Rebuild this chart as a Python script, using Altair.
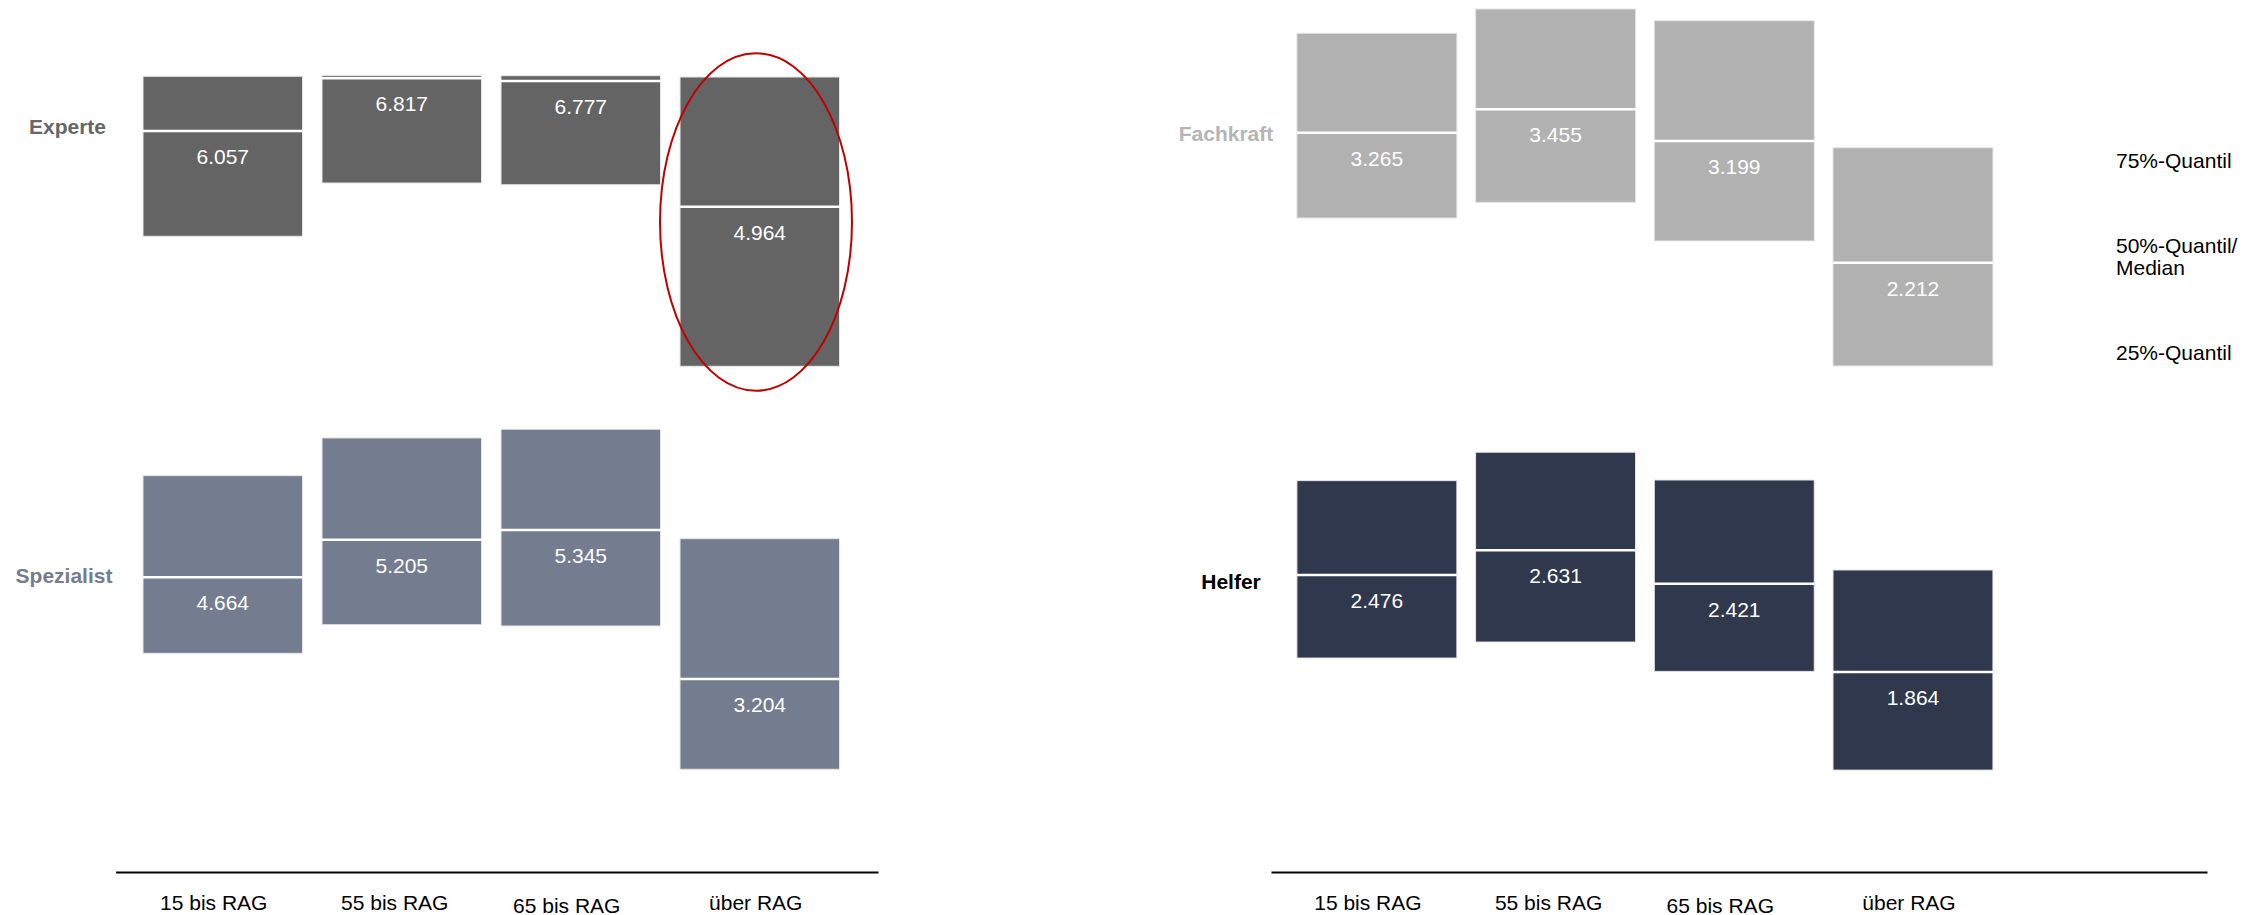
import altair as alt
import pandas as pd

# ---------------- data ----------------
categories = ["15 bis RAG", "55 bis RAG", "65 bis RAG", "über RAG"]

experte_q25 = [4538, 5307, 5282, 2662]
experte_median = [6057, 6817, 6777, 4964]
experte_q75 = [6846, 6855, 6855, 6836]

spezialist_q25 = [3573, 3984, 3966, 1907]
spezialist_median = [4664, 5205, 5345, 3204]
spezialist_q75 = [6125, 6667, 6792, 5220]

fachkraft_q25 = [2574, 2701, 2388, 1375]
fachkraft_median = [3265, 3455, 3199, 2212]
fachkraft_q75 = [4071, 4268, 4173, 3144]

helfer_q25 = [1952, 2053, 1868, 1246]
helfer_median = [2476, 2631, 2421, 1864]
helfer_q75 = [3070, 3249, 3074, 2507]

legend_lines = ["75%-Quantil", "50%-Quantil/", "Median", "25%-Quantil"]

FONT = "Liberation Sans"

ELLIPSE = ("M 0 -1 C 0.3143 -1 0.569 -0.5523 0.569 0 "
           "C 0.569 0.5523 0.3143 1 0 1 "
           "C -0.3143 1 -0.569 0.5523 -0.569 0 "
           "C -0.569 -0.5523 -0.3143 -1 0 -1 Z")


def make_df(q25, med, q75):
    return pd.DataFrame({"cat": categories, "q25": q25, "med": med, "q75": q75})


def panel(group, q25, med, q75, fill, label_color, domain, height, width,
          xscale, label_pos, show_axis, extras=()):
    df = make_df(q25, med, q75)
    if show_axis:
        axis = alt.Axis(
            title=None, domain=True, domainColor="black", domainWidth=2,
            ticks=False, tickSize=0, grid=False, labelAngle=0,
            labelFontSize=21, labelColor="black", labelFont=FONT,
            labelPadding={"condition": {"test": "datum.label == '65 bis RAG'", "value": 23}, "value": 20},
            labelOffset={"condition": [
                {"test": "datum.label == '65 bis RAG'", "value": -14},
                {"test": "datum.label == 'über RAG'", "value": -4},
                {"test": "datum.label == '55 bis RAG'", "value": -7},
            ], "value": -9},
        )
    else:
        axis = None
    x = alt.X("cat:N", sort=categories, scale=xscale, axis=axis)
    yscale = alt.Scale(domain=domain, nice=False, zero=False)

    base = alt.Chart(df).transform_calculate(
        lbl="replace(format(datum.med, ','), ',', '.')"
    )
    bars = base.mark_bar(color=fill, stroke="#e4e4e4", strokeWidth=1).encode(
        x=x,
        y=alt.Y("q25:Q", scale=yscale, axis=None),
        y2="q75:Q",
    )
    median = base.mark_tick(color="white", thickness=2.5, size=160, opacity=1).encode(
        x=x, y=alt.Y("med:Q", scale=yscale, axis=None)
    )
    values = base.mark_text(
        color="white", fontSize=21, font=FONT, baseline="middle", align="center", dy=27
    ).encode(x=x, y=alt.Y("med:Q", scale=yscale, axis=None), text="lbl:N")

    glabel = alt.Chart(pd.DataFrame({"t": [group]})).mark_text(
        color=label_color, fontSize=21, font=FONT, fontWeight="bold",
        baseline="middle", align="center"
    ).encode(x=alt.value(label_pos[0]), y=alt.value(label_pos[1]), text="t:N")

    layers = [bars, median, values, glabel] + [e(x, yscale) for e in extras]
    return alt.layer(*layers).properties(width=width, height=height)


def ellipse_layer(x, yscale):
    return alt.Chart(pd.DataFrame({"t": ["über RAG"]})).mark_point(
        shape=ELLIPSE, size=113839, filled=False, color="#c00000",
        strokeWidth=2, opacity=1
    ).encode(x=alt.value(748), y=alt.value(214))


def legend_layers():
    offs = [(fachkraft_q75[3], 14.5), (fachkraft_median[3], -16),
            (fachkraft_median[3], 6.5), (fachkraft_q25[3], -11.8)]
    out = []
    for txt, (val, dy) in zip(legend_lines, offs):
        def mk(x, yscale, txt=txt, val=val, dy=dy):
            return alt.Chart(pd.DataFrame({"t": [txt]})).mark_text(
                color="black", fontSize=21, font=FONT, align="left",
                baseline="middle", dy=dy
            ).encode(
                x=alt.value(946),
                y=alt.Y(datum=val, scale=yscale, axis=None),
                text="t:N",
            )
        out.append(mk)
    return out


left_x = alt.Scale(domain=categories, range=[107.6, 870], paddingInner=0.109,
                   paddingOuter=0.1841, align=0.416)
right_x = alt.Scale(domain=categories, range=[101, 1037], paddingInner=0.105,
                    paddingOuter=0.6715, align=0.108)

LW, RW = 1162, 1080
TH, BH = 412, 452

experte = panel("Experte", experte_q25, experte_median, experte_q75,
                "#646464", "#666666", [1887, 7832], TH, LW, left_x,
                (59.5, 120), False, extras=(ellipse_layer,))
spezialist = panel("Spezialist", spezialist_q25, spezialist_median, spezialist_q75,
                   "#747c8f", "#747c8f", [431, 6925], BH, LW, left_x,
                   (56, 157), True)
fachkraft = panel("Fachkraft", fachkraft_q25, fachkraft_median, fachkraft_q75,
                  "#b1b1b1", "#b5b5b5", [937, 4276], TH, RW, right_x,
                  (56, 127), False, extras=tuple(legend_layers()))
helfer = panel("Helfer", helfer_q25, helfer_median, helfer_q75,
               "#2f384d", "#000000", [604, 3452], BH, RW, right_x,
               (61, 163), True)

chart = alt.concat(
    experte, fachkraft, spezialist, helfer,
    columns=2, spacing=0, bounds="flush"
).resolve_scale(
    x="independent", y="independent"
).properties(
    padding=0, background="white"
).configure(
    font=FONT
).configure_view(
    stroke=None
)

chart.save("out.html", embed_options={"renderer": "svg", "actions": False})
